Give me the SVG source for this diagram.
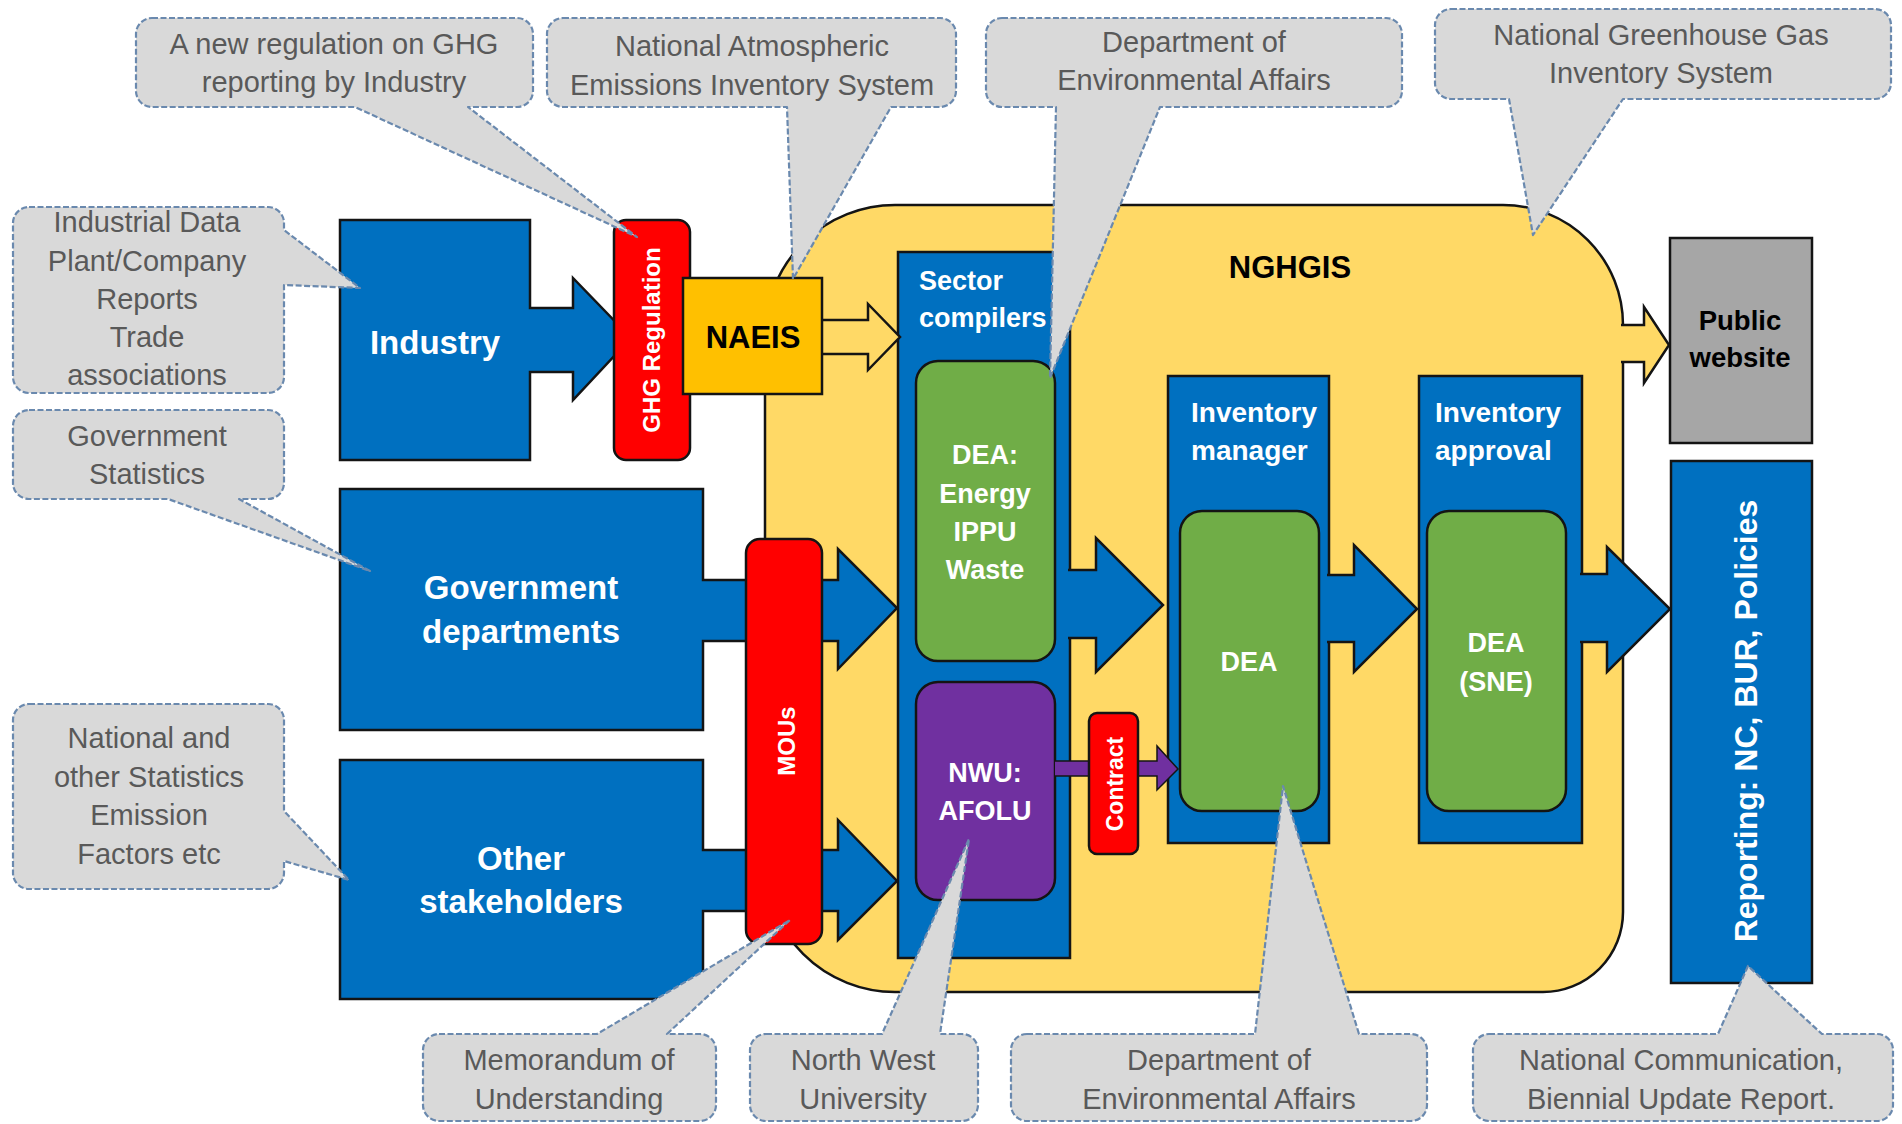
<svg xmlns="http://www.w3.org/2000/svg" width="1902" height="1124" viewBox="0 0 1902 1124">
<style>
.sh{stroke:#141414;stroke-width:2.5;stroke-linejoin:miter}
.blue{fill:#0070C0}
.green{fill:#70AD47}
.purple{fill:#7030A0}
.red{fill:#FF0000}
.yel{fill:#FFD966}
.co{fill:#D9D9D9;stroke:#6A89AE;stroke-width:2.2;stroke-dasharray:6 2.5;stroke-linejoin:round}
.ct{font-family:'Liberation Sans',Arial,sans-serif;font-size:29px;fill:#595959;text-anchor:middle}
.wt{font-family:'Liberation Sans',Arial,sans-serif;font-weight:bold;fill:#FFFFFF;text-anchor:middle}
.bt{font-family:'Liberation Sans',Arial,sans-serif;font-weight:bold;fill:#000000;text-anchor:middle}
.ls{text-anchor:start}
</style>
<rect x="0" y="0" width="1902" height="1124" fill="#FFFFFF"/>

<g id="nghgis">
<path class="sh yel" d="M895,205 H1503 A120,120 0 0 1 1623,325 V912 A80,80 0 0 1 1543,992 H895 A130,130 0 0 1 765,862 V335 A130,130 0 0 1 895,205 Z"/>
<text class="bt" x="1290" y="278" font-size="31">NGHGIS</text>
</g>

<g id="sector-compilers">
<rect class="sh blue" x="898" y="252" width="172" height="706"/>
<text class="wt ls" x="919" y="290" font-size="27">Sector</text>
<text class="wt ls" x="919" y="327" font-size="27">compilers</text>
</g>

<g id="inventory-manager">
<rect class="sh blue" x="1168" y="376" width="161" height="467"/>
<text class="wt ls" x="1191" y="422" font-size="28">Inventory</text>
<text class="wt ls" x="1191" y="460" font-size="28">manager</text>
</g>

<g id="inventory-approval">
<rect class="sh blue" x="1419" y="376" width="163" height="467"/>
<text class="wt ls" x="1435" y="422" font-size="28">Inventory</text>
<text class="wt ls" x="1435" y="460" font-size="28">approval</text>
</g>

<g id="dea-energy">
<rect class="sh green" x="916" y="361" width="139" height="300" rx="22"/>
<text class="wt" x="985" y="464" font-size="27">DEA:</text>
<text class="wt" x="985" y="503" font-size="27">Energy</text>
<text class="wt" x="985" y="541" font-size="27">IPPU</text>
<text class="wt" x="985" y="579" font-size="27">Waste</text>
</g>

<g id="nwu-afolu">
<rect class="sh purple" x="916" y="682" width="139" height="218" rx="22"/>
<text class="wt" x="985" y="782" font-size="27">NWU:</text>
<text class="wt" x="985" y="820" font-size="27">AFOLU</text>
</g>

<g id="dea-manager">
<rect class="sh green" x="1180" y="511" width="139" height="300" rx="22"/>
<text class="wt" x="1249" y="671" font-size="27">DEA</text>
</g>

<g id="dea-sne">
<rect class="sh green" x="1427" y="511" width="139" height="300" rx="22"/>
<text class="wt" x="1496" y="652" font-size="27">DEA</text>
<text class="wt" x="1496" y="691" font-size="27">(SNE)</text>
</g>

<g id="industry">
<polygon class="sh blue" points="340,220 530,220 530,308 573,308 573,278 631,338 573,400 573,372 530,372 530,460 340,460"/>
<text class="wt" x="435" y="354" font-size="33">Industry</text>
</g>

<g id="government-departments">
<polygon class="sh blue" points="340,489 703,489 703,580 838,580 838,549 897,608 838,669 838,641 703,641 703,730 340,730"/>
<text class="wt" x="521" y="599" font-size="33">Government</text>
<text class="wt" x="521" y="643" font-size="33">departments</text>
</g>

<g id="other-stakeholders">
<polygon class="sh blue" points="340,760 703,760 703,850 838,850 838,820 897,881 838,940 838,911 703,911 703,999 340,999"/>
<text class="wt" x="521" y="870" font-size="33">Other</text>
<text class="wt" x="521" y="913" font-size="33">stakeholders</text>
</g>

<g id="connectors">
<path class="sh yel" d="M822,320 H868 V304 L900,337 L868,370 V354 H822"/>
<path class="sh blue" d="M1068,570 H1096 V538 L1163,605 L1096,672 V638 H1068"/>
<path class="sh blue" d="M1327,575 H1354 V545 L1417,609 L1354,672 V642 H1327"/>
<path class="sh blue" d="M1580,574 H1607 V547 L1670,609 L1607,672 V642 H1580"/>
<path class="purple" stroke="#141414" stroke-width="1.5" d="M1055,761 H1157 V746 L1178,769 L1157,790 V776 H1055"/>
<path class="sh yel" d="M1621,325 H1644 V307 L1669,345 L1644,383 V362 H1621"/>
</g>

<g id="ghg-regulation">
<rect class="sh red" x="614" y="220" width="76" height="240" rx="12"/>
<text class="wt" transform="translate(660,340) rotate(-90)" font-size="24">GHG Regulation</text>
</g>

<g id="naeis">
<rect class="sh" fill="#FFC000" x="683" y="278" width="139" height="116"/>
<text class="bt" x="753" y="348" font-size="31">NAEIS</text>
</g>

<g id="mous">
<rect class="sh red" x="746" y="539" width="76" height="405" rx="14"/>
<text class="wt" transform="translate(795,741) rotate(-90)" font-size="24">MOUs</text>
</g>

<g id="contract">
<rect class="sh red" x="1089" y="713" width="49" height="141" rx="8"/>
<text class="wt" transform="translate(1123,784) rotate(-90)" font-size="23">Contract</text>
</g>

<g id="public-website">
<rect class="sh" fill="#A6A6A6" x="1670" y="238" width="142" height="205"/>
<text class="bt" x="1740" y="330" font-size="27.5">Public</text>
<text class="bt" x="1740" y="367" font-size="27.5">website</text>
</g>

<g id="reporting">
<rect class="sh blue" x="1671" y="461" width="141" height="522"/>
<text class="wt" transform="translate(1757,721) rotate(-90)" font-size="32">Reporting: NC, BUR, Policies</text>
</g>

<g id="callout-ghg-regulation">
<path class="co" d="M152,18 H517 A16,16 0 0 1 533,34 V91 A16,16 0 0 1 517,107 H468 L637,237 L355,107 H152 A16,16 0 0 1 136,91 V34 A16,16 0 0 1 152,18 Z"/>
<text class="ct" x="334" y="54">A new regulation on GHG</text>
<text class="ct" x="334" y="92">reporting by Industry</text>
</g>

<g id="callout-naeis">
<path class="co" d="M563,18 H940 A16,16 0 0 1 956,34 V91 A16,16 0 0 1 940,107 H891 L793,279 L787,107 H563 A16,16 0 0 1 547,91 V34 A16,16 0 0 1 563,18 Z"/>
<text class="ct" x="752" y="56">National Atmospheric</text>
<text class="ct" x="752" y="95">Emissions Inventory System</text>
</g>

<g id="callout-dea-top">
<path class="co" d="M1002,18 H1386 A16,16 0 0 1 1402,34 V91 A16,16 0 0 1 1386,107 H1160 L1050,378 L1056,107 H1002 A16,16 0 0 1 986,91 V34 A16,16 0 0 1 1002,18 Z"/>
<text class="ct" x="1194" y="52">Department of</text>
<text class="ct" x="1194" y="90">Environmental Affairs</text>
</g>

<g id="callout-nghgis">
<path class="co" d="M1451,9 H1875 A16,16 0 0 1 1891,25 V83 A16,16 0 0 1 1875,99 H1623 L1533,235 L1509,99 H1451 A16,16 0 0 1 1435,83 V25 A16,16 0 0 1 1451,9 Z"/>
<text class="ct" x="1661" y="45">National Greenhouse Gas</text>
<text class="ct" x="1661" y="83">Inventory System</text>
</g>

<g id="callout-industrial-data">
<path class="co" d="M29,207 H268 A16,16 0 0 1 284,223 V230 L360,288 L284,285 V377 A16,16 0 0 1 268,393 H29 A16,16 0 0 1 13,377 V223 A16,16 0 0 1 29,207 Z"/>
<text class="ct" x="147" y="232">Industrial Data</text>
<text class="ct" x="147" y="271">Plant/Company</text>
<text class="ct" x="147" y="309">Reports</text>
<text class="ct" x="147" y="347">Trade</text>
<text class="ct" x="147" y="385">associations</text>
</g>

<g id="callout-gov-statistics">
<path class="co" d="M29,410 H268 A16,16 0 0 1 284,426 V483 A16,16 0 0 1 268,499 H239 L370,571 L168,499 H29 A16,16 0 0 1 13,483 V426 A16,16 0 0 1 29,410 Z"/>
<text class="ct" x="147" y="446">Government</text>
<text class="ct" x="147" y="484">Statistics</text>
</g>

<g id="callout-national-statistics">
<path class="co" d="M29,704 H268 A16,16 0 0 1 284,720 V811 L349,880 L284,861 V873 A16,16 0 0 1 268,889 H29 A16,16 0 0 1 13,873 V720 A16,16 0 0 1 29,704 Z"/>
<text class="ct" x="149" y="748">National and</text>
<text class="ct" x="149" y="787">other Statistics</text>
<text class="ct" x="149" y="825">Emission</text>
<text class="ct" x="149" y="864">Factors etc</text>
</g>

<g id="callout-mou">
<path class="co" d="M439,1034 H597 L790,920 L667,1034 H700 A16,16 0 0 1 716,1050 V1105 A16,16 0 0 1 700,1121 H439 A16,16 0 0 1 423,1105 V1050 A16,16 0 0 1 439,1034 Z"/>
<text class="ct" x="569" y="1070">Memorandum of</text>
<text class="ct" x="569" y="1109">Understanding</text>
</g>

<g id="callout-nwu">
<path class="co" d="M766,1034 H882 L969,839 L940,1034 H962 A16,16 0 0 1 978,1050 V1105 A16,16 0 0 1 962,1121 H766 A16,16 0 0 1 750,1105 V1050 A16,16 0 0 1 766,1034 Z"/>
<text class="ct" x="863" y="1070">North West</text>
<text class="ct" x="863" y="1109">University</text>
</g>

<g id="callout-dea-bottom">
<path class="co" d="M1027,1034 H1255 L1283,786 L1359,1034 H1411 A16,16 0 0 1 1427,1050 V1105 A16,16 0 0 1 1411,1121 H1027 A16,16 0 0 1 1011,1105 V1050 A16,16 0 0 1 1027,1034 Z"/>
<text class="ct" x="1219" y="1070">Department of</text>
<text class="ct" x="1219" y="1109">Environmental Affairs</text>
</g>

<g id="callout-reporting">
<path class="co" d="M1489,1034 H1718 L1748,966 L1822,1034 H1877 A16,16 0 0 1 1893,1050 V1105 A16,16 0 0 1 1877,1121 H1489 A16,16 0 0 1 1473,1105 V1050 A16,16 0 0 1 1489,1034 Z"/>
<text class="ct" x="1681" y="1070">National Communication,</text>
<text class="ct" x="1681" y="1109">Biennial Update Report.</text>
</g>
</svg>
